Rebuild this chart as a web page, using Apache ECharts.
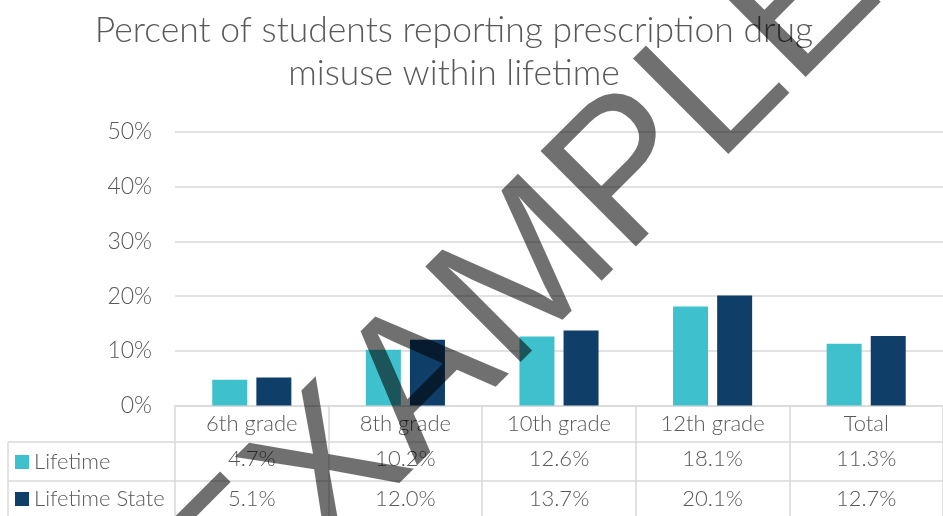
<!DOCTYPE html>
<html>
<head>
<meta charset="utf-8">
<script src="https://cdn.jsdelivr.net/npm/echarts@6/dist/echarts.min.js"></script>
<style>
  html, body { margin: 0; padding: 0; background: #fff; }
  #chart { width: 943px; height: 516px; }
</style>
</head>
<body>
<div id="chart"></div>
<script>
// data
const categories = ['6th grade', '8th grade', '10th grade', '12th grade', 'Total']
const lifetime = [4.7, 10.2, 12.6, 18.1, 11.3]
const lifetimeState = [5.1, 12.0, 13.7, 20.1, 12.7]
const yTicks = [0, 10, 20, 30, 40, 50]

const FONT = 'Lato'
const TEXT = '#595959'
const LINE = '#d9d9d9'
const TEAL = '#3ec1cd'
const NAVY = '#0f3f69'

const chart = echarts.init(document.getElementById('chart'))

// one extra x axis per table row, labels taken by index
const rowAxis = (values, offset, margin) => ({
  type: 'category',
  data: categories,
  position: 'bottom',
  offset: offset,
  axisLine: { show: true, lineStyle: { color: LINE, width: 1.5 } },
  axisTick: { show: false },
  axisLabel: {
    margin: margin,
    fontFamily: FONT, fontWeight: 300, fontSize: 22, color: TEXT,
    formatter: (v, i) => values[i].toFixed(1) + '%'
  }
})

// legend key sits in the row header cell of the table
const rowLegend = (name, top) => ({
  data: [name],
  left: 15,
  top: top,
  padding: 0,
  itemWidth: 14,
  itemHeight: 14,
  icon: 'rect',
  textStyle: { fontFamily: FONT, fontWeight: 300, fontSize: 22, color: TEXT }
})

chart.setOption({
  animation: false,
  title: {
    text: 'Percent of students reporting prescription drug\nmisuse within lifetime',
    left: 449,
    top: 4,
    textAlign: 'center',
    textStyle: { fontFamily: FONT, fontWeight: 300, fontSize: 35.5, lineHeight: 43, color: TEXT }
  },
  legend: [rowLegend('Lifetime', 451), rowLegend('Lifetime State', 488)],
  grid: { left: 175, right: -10, top: 132, bottom: 110.5 },
  xAxis: [
    {
      type: 'category',
      data: categories,
      axisLine: { lineStyle: { color: LINE, width: 1.5 } },
      axisTick: { show: true, length: 112, lineStyle: { color: LINE, width: 1.5 } },
      axisLabel: { margin: 7, fontFamily: FONT, fontWeight: 300, fontSize: 22, color: TEXT }
    },
    rowAxis(lifetime, 36, 6),
    rowAxis(lifetimeState, 75, 7)
  ],
  yAxis: {
    type: 'value',
    min: yTicks[0],
    max: yTicks[yTicks.length - 1],
    interval: 10,
    axisLine: { show: false },
    axisTick: { show: false },
    splitLine: { lineStyle: { color: LINE, width: 1.5 } },
    axisLabel: {
      margin: 23,
      fontFamily: FONT, fontWeight: 300, fontSize: 23, color: TEXT,
      formatter: '{value}%'
    }
  },
  series: [
    { name: 'Lifetime', type: 'bar', data: lifetime, barWidth: 35, barGap: '26%', itemStyle: { color: TEAL } },
    { name: 'Lifetime State', type: 'bar', data: lifetimeState, barWidth: 35, itemStyle: { color: NAVY } }
  ],
  graphic: [
    // left part of the data table, outside the grid
    { type: 'line', shape: { x1: 8, y1: 442, x2: 175, y2: 442 }, style: { stroke: LINE, lineWidth: 1.5 } },
    { type: 'line', shape: { x1: 8, y1: 481, x2: 175, y2: 481 }, style: { stroke: LINE, lineWidth: 1.5 } },
    { type: 'line', shape: { x1: 8, y1: 442, x2: 8, y2: 516 }, style: { stroke: LINE, lineWidth: 1.5 } },
    // watermark
    {
      type: 'text',
      x: 521, y: 285,
      rotation: Math.PI / 4,
      z: 100,
      style: {
        text: 'EXAMPLE',
        fontFamily: 'Liberation Sans',
        fontSize: 196,
        fill: 'rgba(0,0,0,0.56)',
        textAlign: 'center',
        textVerticalAlign: 'middle'
      }
    }
  ]
})
</script>
</body>
</html>
